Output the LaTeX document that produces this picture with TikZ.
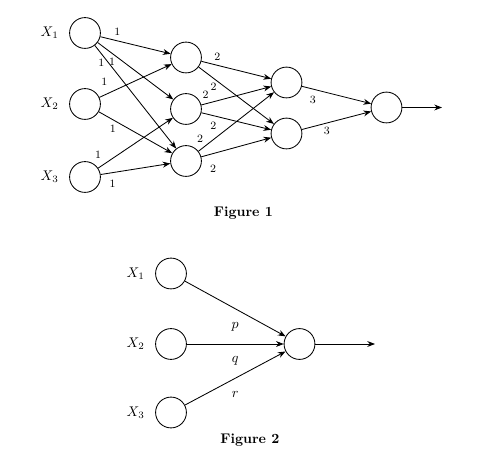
\documentclass[tikz,border=0pt]{standalone}
\usepackage{amsmath}
\usepackage{tikz}
\usetikzlibrary{arrows.meta, positioning}

\begin{document}
\begin{tikzpicture}[
        x=0.714pt, y=-0.714pt,
        neuron/.style={circle, draw, semithick, minimum size=22pt, inner sep=0pt},
        arrow/.style={->, >={Stealth[length=5.5pt, width=4.2pt]}, semithick},
        wlbl/.style={font=\footnotesize},
        caption/.style={font=\bfseries}
    ]
    \useasboundingbox (0,0) rectangle (484,466);

    % Figure 1
    \node (x1) [neuron] at (85,33) {};
    \node (x2) [neuron] at (85,104) {};
    \node (x3) [neuron] at (85,177) {};
    \node [left=4pt of x1] {$X_1$};
    \node [left=4pt of x2] {$X_2$};
    \node [left=4pt of x3] {$X_3$};

    \node (h1) [neuron] at (186,57.5) {};
    \node (h2) [neuron] at (186,109) {};
    \node (h3) [neuron] at (186,161) {};

    \node (g1) [neuron] at (286.5,82.5) {};
    \node (g2) [neuron] at (286.5,133.5) {};

    \node (o1) [neuron] at (386.5,107.5) {};
    \coordinate (out1) at (442,107.5);

    \draw [arrow] (x1) -- node[wlbl, pos=0.24, above] {1} (h1);
    \draw [arrow] (x1) -- node[wlbl, pos=0.19, below] {1} (h2);
    \draw [arrow] (x1) -- node[wlbl, pos=0.08, below] {1} (h3);
    \draw [arrow] (x2) -- node[wlbl, pos=0.07, above=3pt] {1} (h1);
    \draw [arrow] (x2) -- node[wlbl, pos=0.19, below] {1} (h3);
    \draw [arrow] (x3) -- node[wlbl, pos=0, above=3pt] {1} (h2);
    \draw [arrow] (x3) -- node[wlbl, pos=0.17, below=2pt] {1} (h3);

    \draw [arrow] (h1) -- node[wlbl, pos=0.23, above] {2} (g1);
    \draw [arrow] (h1) -- node[wlbl, pos=0.2, below] {2} (g2);
    \draw [arrow] (h2) -- node[wlbl, pos=0.06, above] {2} (g1);
    \draw [arrow] (h2) -- node[wlbl, pos=0.17, below=1pt] {2} (g2);
    \draw [arrow] (h3) -- node[wlbl, pos=0.02, above=2pt] {2} (g1);
    \draw [arrow] (h3) -- node[wlbl, pos=0.17, below=4.5pt] {2} (g2);

    \draw [arrow] (g1) -- node[wlbl, pos=0.16, below=1pt] {3} (o1);
    \draw [arrow] (g2) -- node[wlbl, pos=0.36, below=-1pt] {3} (o1);
    \draw [arrow] (o1) -- (out1);

    \node (cap1) [caption] at (243.5,213) {Figure 1};

    % Figure 2
    \node (a1) [neuron] at (171,273.5) {};
    \node (a2) [neuron] at (171,344) {};
    \node (a3) [neuron] at (171,412.5) {};
    \node [left=4pt of a1] {$X_1$};
    \node [left=4pt of a2] {$X_2$};
    \node [left=4pt of a3] {$X_3$};

    \node (o2) [neuron] at (299.5,344) {};
    \coordinate (out2) at (375,344);

    \draw [arrow] (a1) -- node[below=6pt] {$p$} (o2);
    \draw [arrow] (a2) -- node[below=5pt] {$q$} (o2);
    \draw [arrow] (a3) -- node[below=6pt] {$r$} (o2);
    \draw [arrow] (o2) -- (out2);

    \node (cap2) [caption] at (250,440) {Figure 2};

\end{tikzpicture}
\end{document}
